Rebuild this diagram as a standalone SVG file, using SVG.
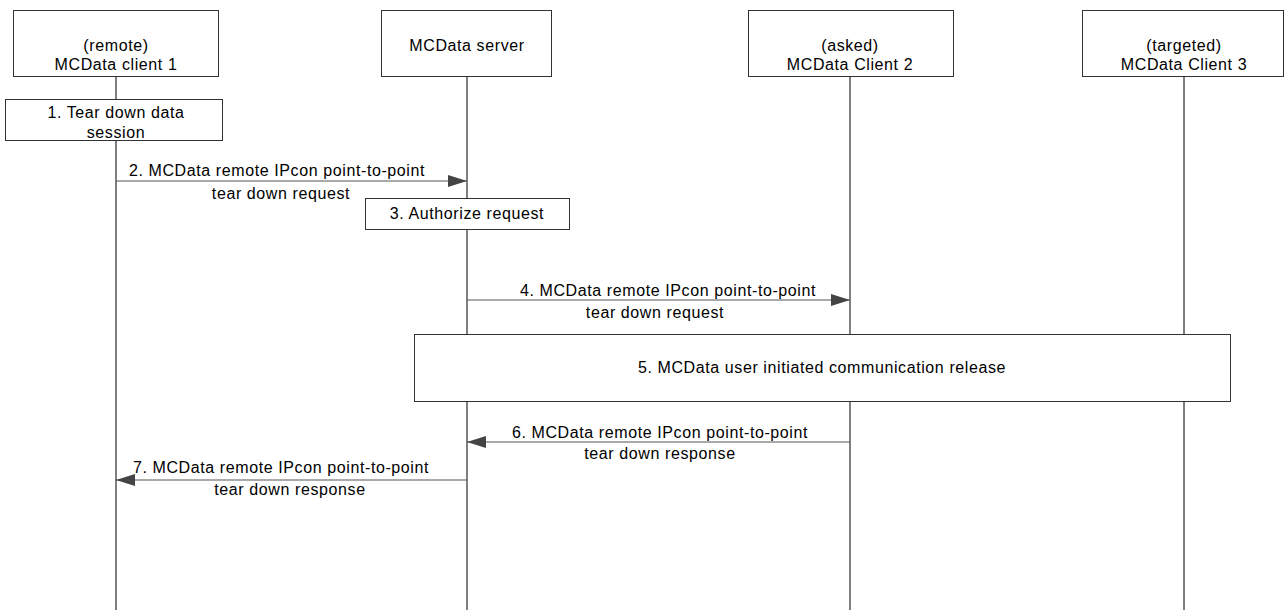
<svg xmlns="http://www.w3.org/2000/svg" width="1284" height="610" viewBox="0 0 1284 610">
<style>
.box{fill:#fff;stroke:#333;stroke-width:1}
.life{stroke:#000;stroke-width:1}
.msg{stroke:#555;stroke-width:1;fill:none}
text{font-family:"Liberation Sans",Arial,sans-serif;font-size:16px;letter-spacing:0.6px;fill:#000;text-anchor:middle}
</style>
<defs>
<marker id="ah" markerWidth="20" markerHeight="12" refX="19" refY="6" orient="auto" markerUnits="userSpaceOnUse">
<path d="M0,0 L19,6 L0,12 Z" fill="#444"/>
</marker>
</defs>
<g id="lifelines">
<line class="life" x1="116" y1="76" x2="116" y2="610"/>
<line class="life" x1="467" y1="76" x2="467" y2="610"/>
<line class="life" x1="850" y1="76" x2="850" y2="610"/>
<line class="life" x1="1184" y1="76" x2="1184" y2="610"/>
</g>
<g id="client1">
<rect class="box" x="13.5" y="10.5" width="205" height="66"/>
<text x="116" y="51">(remote)</text>
<text x="116" y="70">MCData client 1</text>
</g>
<g id="server">
<rect class="box" x="381.5" y="10.5" width="170" height="66"/>
<text x="467" y="51">MCData server</text>
</g>
<g id="client2">
<rect class="box" x="748.5" y="10.5" width="205" height="66"/>
<text x="850" y="51">(asked)</text>
<text x="850" y="70">MCData Client 2</text>
</g>
<g id="client3">
<rect class="box" x="1082.5" y="10.5" width="201" height="66"/>
<text x="1184" y="51">(targeted)</text>
<text x="1184" y="70">MCData Client 3</text>
</g>
<g id="step1">
<rect class="box" x="5.5" y="99.5" width="217" height="41"/>
<text x="116" y="118">1. Tear down data</text>
<text x="116" y="138">session</text>
</g>
<g id="step3">
<rect class="box" x="365.5" y="198.5" width="204" height="31"/>
<text x="467" y="219">3. Authorize request</text>
</g>
<g id="step5">
<rect class="box" x="414.5" y="334.5" width="816" height="67"/>
<text x="822" y="373">5. MCData user initiated communication release</text>
</g>
<g id="connectors">
<line class="msg" x1="116" y1="181" x2="467" y2="181" marker-end="url(#ah)"/>
<line class="msg" x1="467" y1="300" x2="850" y2="300" marker-end="url(#ah)"/>
<line class="msg" x1="850" y1="442" x2="467" y2="442" marker-end="url(#ah)"/>
<line class="msg" x1="467" y1="480" x2="116" y2="480" marker-end="url(#ah)"/>
</g>
<g id="labels">
<text x="277" y="176">2. MCData remote IPcon point-to-point</text>
<text x="281" y="199">tear down request</text>
<text x="668" y="296">4. MCData remote IPcon point-to-point</text>
<text x="655" y="318">tear down request</text>
<text x="660" y="438">6. MCData remote IPcon point-to-point</text>
<text x="660" y="459">tear down response</text>
<text x="281" y="473">7. MCData remote IPcon point-to-point</text>
<text x="290" y="495">tear down response</text>
</g>
</svg>
